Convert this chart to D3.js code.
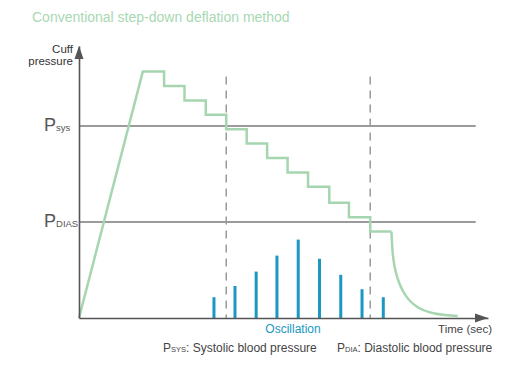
<!DOCTYPE html>
<head>
    <meta charset="utf-8">
    <title>Step-down deflation</title>
    <script type="text/javascript" src="https://d3js.org/d3.v7.min.js"></script>
    <style>
        body { margin: 0; background: #fff; }
        text { font-family: "Liberation Sans", Arial, sans-serif; }
    </style>
</head>
<body>
<div id="container"></div>

<script>
    //-----------------------------DATA-----------------------------//
    // time in sec, pressure in mmHg
    const pSys = 120;
    const pDias = 60;
    const peakStart = [7.8, 154];
    const dropTimes = [10.4, 12.9, 15.5, 18.0, 20.5, 23.0, 25.5, 28.0, 30.6, 33.0, 35.6];
    const stepLevels = [154, 145, 136, 127, 118, 109, 100, 91, 82, 72, 63, 54];
    const decayStart = 38.2;
    const decay = [[38.2, 54], [38.3, 40], [38.8, 25], [39.9, 13], [41.4, 6], [43.3, 2.5], [46.3, 1.2]];
    const oscTimes = [16.5, 19.07, 21.66, 24.2, 26.8, 29.4, 32.0, 34.6, 37.2];
    const oscAmps = [13, 20, 29, 39, 49, 37, 27, 18, 13];
    const markTimes = [18.0, 35.6];

    //-----------------------------SVG------------------------------//
    const width = 520, height = 370;
    const svg = d3.select("#container").append("svg")
        .attr("width", width)
        .attr("height", height);

    const x = d3.scaleLinear().domain([0, 50]).range([79, 488]);
    const y = d3.scaleLinear().domain([0, 170]).range([318, 46]);

    const green = "#a6d6b0";
    const blue = "#1b98c2";
    const axisColor = "#555";

    //-----------------------------TITLE----------------------------//
    svg.append("text")
        .attr("x", 32).attr("y", 22)
        .style("font-size", "14px")
        .style("fill", "#a9d8b4")
        .text("Conventional step-down deflation method");

    //-------------------------REFERENCE LINES----------------------//
    svg.selectAll(".ref")
        .data([pSys, pDias])
        .enter().append("line")
        .attr("class", "ref")
        .attr("x1", x(0)).attr("x2", x(48.5))
        .attr("y1", d => y(d)).attr("y2", d => y(d))
        .style("stroke", "#7a7a7a")
        .style("stroke-width", 1.3);

    // dashed markers
    svg.selectAll(".mark")
        .data(markTimes)
        .enter().append("line")
        .attr("class", "mark")
        .attr("x1", d => x(d)).attr("x2", d => x(d))
        .attr("y1", y(151)).attr("y2", y(0))
        .style("stroke", "#9a9a9a")
        .style("stroke-width", 1.5)
        .style("stroke-dasharray", "8,6");

    //----------------------------BARS------------------------------//
    svg.selectAll(".osc")
        .data(oscTimes)
        .enter().append("line")
        .attr("class", "osc")
        .attr("x1", d => x(d)).attr("x2", d => x(d))
        .attr("y1", y(0))
        .attr("y2", (d, i) => y(oscAmps[i]))
        .style("stroke", blue)
        .style("stroke-width", 3);

    //----------------------------CUFF LINE-------------------------//
    let pts = [[0, 0], peakStart];
    stepLevels.forEach(function(lv, i) {
        const tEnd = i < dropTimes.length ? dropTimes[i] : decayStart;
        pts.push([tEnd, lv]);
        if (i + 1 < stepLevels.length) pts.push([tEnd, stepLevels[i + 1]]);
    });

    const line = d3.line()
        .x(d => x(d[0]))
        .y(d => y(d[1]));

    svg.append("path")
        .attr("d", line(pts))
        .style("fill", "none")
        .style("stroke", green)
        .style("stroke-width", 2.5)
        .style("stroke-linejoin", "miter");

    svg.append("path")
        .attr("d", line.curve(d3.curveBasis)(decay))
        .style("fill", "none")
        .style("stroke", green)
        .style("stroke-width", 2.5);

    //-----------------------------AXES-----------------------------//
    svg.append("g")
        .attr("transform", "translate(0," + y(0) + ")")
        .call(d3.axisBottom(x).tickValues([]).tickSizeOuter(0))
        .select(".domain")
        .style("stroke", axisColor)
        .style("stroke-width", 1.6);

    svg.append("g")
        .attr("transform", "translate(" + x(0) + ",0)")
        .call(d3.axisLeft(y).tickValues([]).tickSizeOuter(0))
        .select(".domain")
        .style("stroke", axisColor)
        .style("stroke-width", 1.6);

    // arrow heads
    const xe = x(50), ye = y(170);
    svg.append("path")
        .attr("d", "M" + xe + "," + y(0) + "L" + (xe - 13) + "," + (y(0) - 4.5) + "L" + (xe - 13) + "," + (y(0) + 4.5) + "Z")
        .style("fill", axisColor);
    svg.append("path")
        .attr("d", "M" + x(0) + "," + ye + "L" + (x(0) - 4.5) + "," + (ye + 13) + "L" + (x(0) + 4.5) + "," + (ye + 13) + "Z")
        .style("fill", axisColor);

    //----------------------------LABELS----------------------------//
    svg.append("text").attr("x", 73).attr("y", 53)
        .style("font-size", "11.5px").style("fill", "#333")
        .style("text-anchor", "end").text("Cuff");
    svg.append("text").attr("x", 73).attr("y", 65)
        .style("font-size", "11.5px").style("fill", "#333")
        .style("text-anchor", "end").text("pressure");

    const pLabel = function(py, sub) {
        const t = svg.append("text")
            .attr("x", 44).attr("y", y(py) + 5)
            .style("fill", "#555");
        t.append("tspan").style("font-size", "18px").text("P");
        t.append("tspan").style("font-size", "9.5px").text(sub);
    };
    pLabel(pSys, "sys");
    pLabel(pDias, "DIAS");

    svg.append("text").attr("x", 293).attr("y", 333)
        .style("font-size", "12px")
        .style("fill", blue).style("text-anchor", "middle")
        .text("Oscillation");

    svg.append("text").attr("x", 492).attr("y", 333)
        .style("font-size", "11.5px").style("fill", "#444")
        .style("text-anchor", "end")
        .text("Time (sec)");

    const note = function(nx, sub, rest) {
        const t = svg.append("text")
            .attr("x", nx).attr("y", 352)
            .style("fill", "#444");
        t.append("tspan").style("font-size", "12px").text("P");
        t.append("tspan").style("font-size", "7.5px").text(sub);
        t.append("tspan").style("font-size", "12px").text(rest);
    };
    note(163, "SYS", ": Systolic blood pressure");
    note(337, "DIA", ": Diastolic blood pressure");
</script>
</body>
